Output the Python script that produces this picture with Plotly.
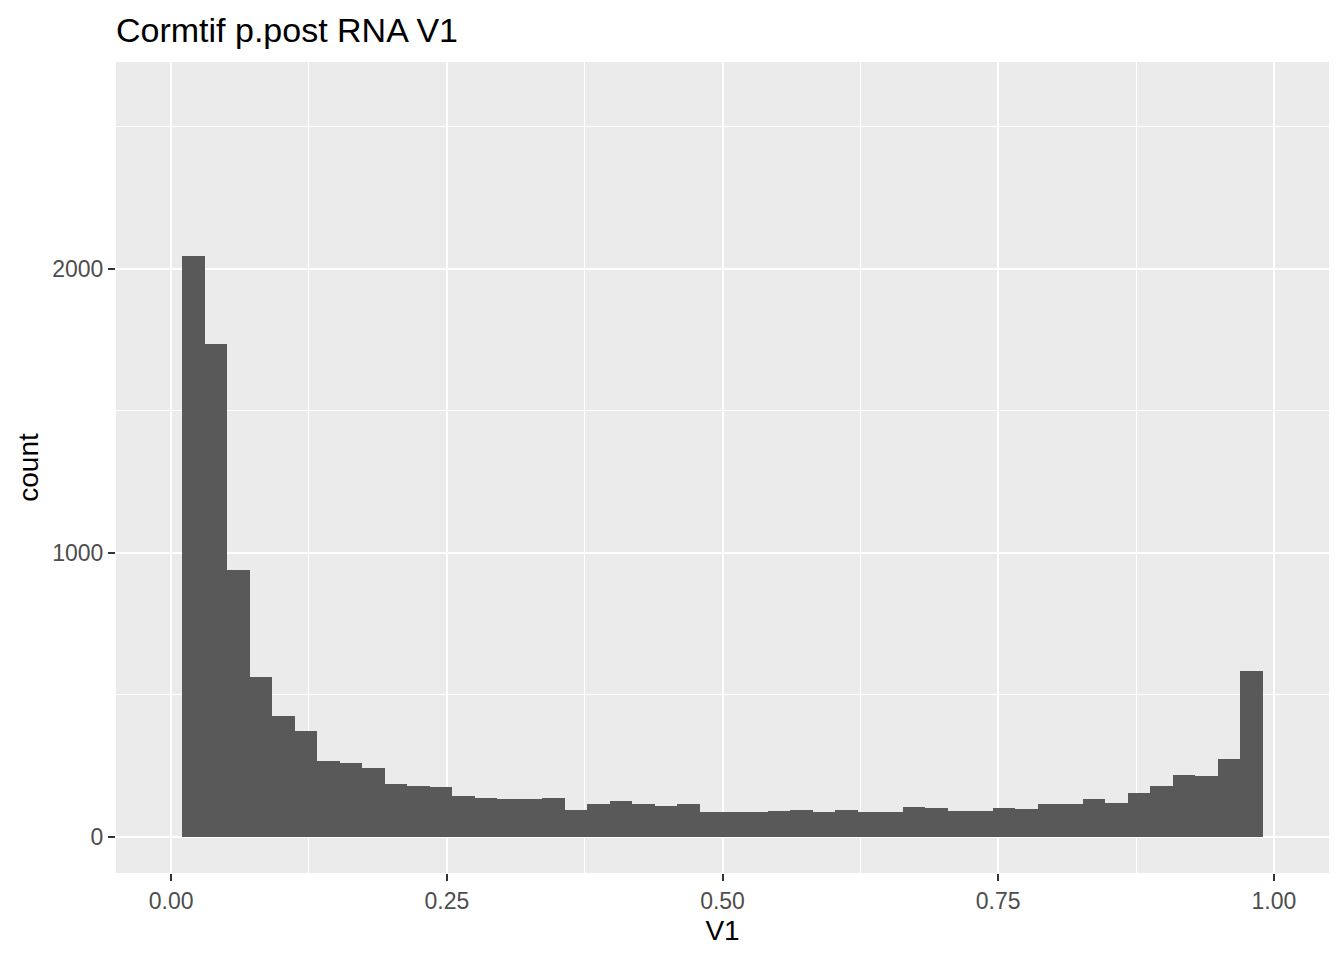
"""Histogram of V1 posterior values, ggplot-style."""

import plotly.graph_objects as go

# Histogram bins: 48 equal bins from 0.01 to 0.99
BIN_START = 0.01
BIN_END = 0.99
COUNTS = [
    2044, 1737, 938, 564, 427, 374, 268, 262, 241, 185,
    178, 175, 143, 136, 133, 133, 136, 94, 115, 126,
    115, 108, 115, 87, 87, 87, 91, 94, 87, 94,
    87, 87, 105, 101, 91, 91, 101, 98, 115, 115,
    133, 119, 154, 179, 218, 214, 274, 585,
]
X_TICKS = [0.0, 0.25, 0.5, 0.75, 1.0]
X_MINOR = [0.125, 0.375, 0.625, 0.875]
Y_TICKS = [0, 1000, 2000]
Y_MINOR = [500, 1500, 2500]

_BAR = "#595959"
_PANEL = "#EBEBEB"
_TICK_TXT = "#4D4D4D"
_FONT = "Liberation Sans, Arial, sans-serif"

# page body has an 8px margin, so the figure is sized to sit inside it
_W, _H = 1328, 944

bin_width = (BIN_END - BIN_START) / len(COUNTS)
centers = [BIN_START + bin_width * (i + 0.5) for i in range(len(COUNTS))]

fig = go.Figure(
    go.Bar(
        x=centers,
        y=COUNTS,
        width=bin_width,
        marker=dict(color=_BAR, line=dict(width=0)),
        showlegend=False,
        hovertemplate="%{x:.3f}: %{y}<extra></extra>",
    )
)

fig.update_layout(
    width=_W,
    height=_H,
    paper_bgcolor="white",
    plot_bgcolor=_PANEL,
    bargap=0,
    margin=dict(l=108, r=7, t=54, b=79),
    font=dict(family=_FONT, color="black"),
    title=dict(
        text="Cormtif p.post RNA V1",
        font=dict(size=34, color="black", family=_FONT),
        xref="paper", x=0, xanchor="left",
        yref="container", y=1 - 22 / _H, yanchor="middle",
    ),
)

fig.update_xaxes(
    range=[-0.05, 1.05],
    tickvals=X_TICKS,
    ticktext=[f"{v:.2f}" for v in X_TICKS],
    tickfont=dict(size=23, color=_TICK_TXT),
    ticks="outside", ticklen=7, tickwidth=1.5, tickcolor="#333333",
    showgrid=True, gridcolor="white", gridwidth=2,
    minor=dict(tickvals=X_MINOR, showgrid=True, gridcolor="white", gridwidth=1, ticks=""),
    zeroline=False, showline=False,
    title=dict(text="V1", font=dict(size=28, color="black"), standoff=7),
)
fig.update_yaxes(
    range=[-127, 2728],
    tickvals=Y_TICKS,
    tickfont=dict(size=23, color=_TICK_TXT),
    ticks="outside", ticklen=7, tickwidth=1.5, tickcolor="#333333",
    showgrid=True, gridcolor="white", gridwidth=2,
    minor=dict(tickvals=Y_MINOR, showgrid=True, gridcolor="white", gridwidth=1, ticks=""),
    zeroline=False, showline=False,
    title=dict(text="count", font=dict(size=28, color="black"), standoff=5),
)

fig.write_html("out.html")
